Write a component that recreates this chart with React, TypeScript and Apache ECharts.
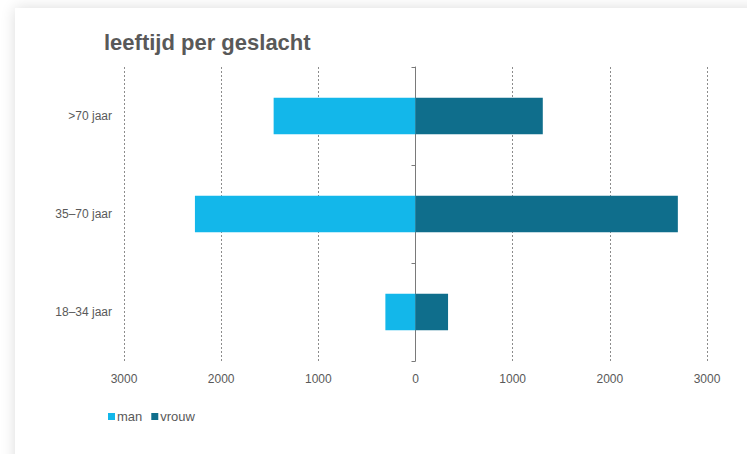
import React, { useEffect, useRef } from "react";
import * as echarts from "echarts";

// age groups, bottom to top
const categories = ["18–34 jaar", "35–70 jaar", ">70 jaar"];
const manValues = [310, 2270, 1460];
const vrouwValues = [335, 2700, 1310];
const axisTicks = [-3000, -2000, -1000, 0, 1000, 2000, 3000];

const FONT = "'Liberation Sans', Arial, Helvetica, sans-serif";
const TEXT = "#595959";

export default function App() {
  const ref = useRef<HTMLDivElement>(null);

  useEffect(() => {
    if (!ref.current) return;
    const chart = echarts.init(ref.current, undefined, { renderer: "svg" });
    chart.setOption({
      animation: false,
      textStyle: { fontFamily: FONT },
      title: {
        text: "leeftijd per geslacht",
        left: 99,
        top: 26,
        textStyle: { fontSize: 22, fontWeight: "bold", color: "#595959", fontFamily: FONT },
      },
      legend: {
        left: 103,
        top: 405,
        icon: "rect",
        itemWidth: 7,
        itemHeight: 7,
        itemGap: 9,
        textStyle: { fontSize: 13, color: TEXT, fontFamily: FONT, padding: [0, 0, 0, -3] },
        data: ["man", "vrouw"],
      },
      grid: { left: 124, right: 40, top: 67, bottom: 93 },
      xAxis: {
        type: "value",
        min: axisTicks[0],
        max: axisTicks[axisTicks.length - 1],
        interval: 1000,
        axisLine: { show: false },
        axisTick: { show: false },
        axisLabel: {
          color: TEXT,
          fontSize: 12,
          margin: 12,
          formatter: (v: number) => String(Math.abs(v)),
        },
        splitLine: { show: true, lineStyle: { type: [2, 2], color: "#8c8c8c", width: 1 } },
      },
      yAxis: [
        {
          type: "category",
          data: categories,
          axisLine: { show: true, onZero: true, lineStyle: { color: "#7a7a7a", width: 1 } },
          axisTick: { show: true, length: 4, lineStyle: { color: "#7a7a7a" } },
          axisLabel: { show: false },
        },
        {
          type: "category",
          data: categories,
          position: "left",
          axisLine: { show: false, onZero: false },
          axisTick: { show: false },
          axisLabel: { color: TEXT, fontSize: 12, margin: 12 },
        },
      ],
      series: [
        {
          name: "man",
          type: "bar",
          stack: "total",
          yAxisIndex: 0,
          barWidth: "37%",
          itemStyle: { color: "#13b7ea" },
          data: manValues.map((v) => -v),
        },
        {
          name: "vrouw",
          type: "bar",
          stack: "total",
          yAxisIndex: 0,
          barWidth: "37%",
          itemStyle: { color: "#0f6e8c" },
          data: vrouwValues,
        },
      ],
    });
    return () => chart.dispose();
  }, []);

  return (
    <div
      style={{
        position: "fixed",
        left: 0,
        top: 0,
        width: 747,
        height: 454,
        background: "#ffffff",
        overflow: "hidden",
      }}
    >
      <div
        style={{
          position: "absolute",
          left: 15,
          top: 8,
          width: 760,
          height: 470,
          background: "#ffffff",
          boxShadow: "0 0 14px rgba(0,0,0,0.14)",
        }}
      />
      <div ref={ref} style={{ position: "absolute", left: 0, top: 0, width: 747, height: 454 }} />
    </div>
  );
}
